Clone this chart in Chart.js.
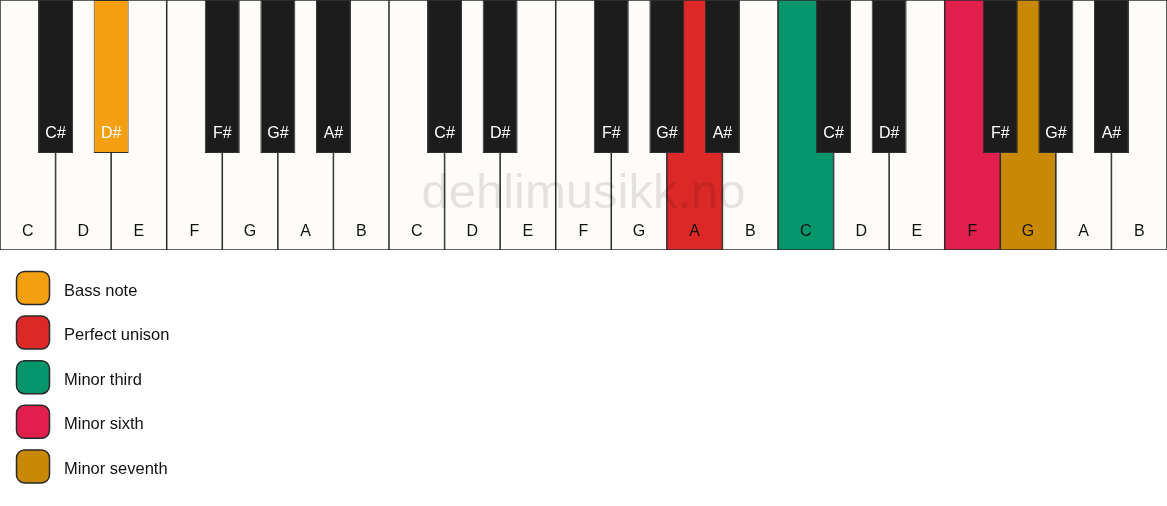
<!DOCTYPE html>
<html>
<head>
<meta charset="utf-8">
<script src="https://cdn.jsdelivr.net/npm/chart.js@4/dist/chart.umd.min.js"></script>
<style>
  html, body { margin: 0; padding: 0; background: #ffffff; }
  #wrap { width: 1167px; height: 506px; }
</style>
</head>
<body>
<div id="wrap"><canvas id="piano"></canvas></div>
<script>
// white keys, left to right (3 octaves)
const whiteNotes = ["C","D","E","F","G","A","B","C","D","E","F","G","A","B","C","D","E","F","G","A","B"];
// black keys sit on the boundary between two white keys (boundary index)
const blackNotes = ["C#","D#","F#","G#","A#","C#","D#","F#","G#","A#","C#","D#","F#","G#","A#"];
const blackBounds = [1, 2, 4, 5, 6, 8, 9, 11, 12, 13, 15, 16, 18, 19, 20];

// highlighted keys: [kind, index] matching the legend entries
const legendLabels = ["Bass note", "Perfect unison", "Minor third", "Minor sixth", "Minor seventh"];
const legendColors = ["#f39f0f", "#dd2828", "#05956a", "#e11f4c", "#c98905"];
const highlightKeys = [["black", 1], ["white", 12], ["white", 14], ["white", 17], ["white", 18]];

const keyTop = 1;
const blackKeyBottom = 0.388;

const WHITE = "#fdfcf9";
const BLACK = "#1c1c1c";

function keyColors(kind, count, base) {
  const colors = new Array(count).fill(base);
  highlightKeys.forEach(([k, idx], i) => {
    if (k === kind) colors[idx] = legendColors[i];
  });
  return colors;
}

const whiteData = whiteNotes.map((n, i) => ({ x: i + 0.5, y: [0, keyTop] }));
const blackData = blackBounds.map((b) => ({ x: b, y: [blackKeyBottom, keyTop] }));

// note names on keys + watermark
const keyLabels = {
  id: "keyLabels",
  afterDatasetsDraw(chart) {
    const ctx = chart.ctx;
    const area = chart.chartArea;
    ctx.save();
    ctx.textAlign = "center";
    ctx.textBaseline = "middle";

    ctx.font = "49px 'Liberation Sans', Arial, sans-serif";
    ctx.fillStyle = "rgba(0,0,0,0.1)";
    ctx.fillText("dehlimusikk.no", (area.left + area.right) / 2, 194);

    ctx.font = "16px 'Liberation Sans', Arial, sans-serif";
    chart.getDatasetMeta(0).data.forEach((bar, i) => {
      ctx.fillStyle = "#111111";
      ctx.fillText(whiteNotes[i], bar.x, 232);
    });
    chart.getDatasetMeta(1).data.forEach((bar, i) => {
      ctx.fillStyle = "#ffffff";
      ctx.fillText(blackNotes[i], bar.x, 134);
    });
    ctx.restore();
  }
};

// vertical legend under the keyboard
const sideLegend = {
  id: "sideLegend",
  afterDraw(chart) {
    const ctx = chart.ctx;
    ctx.save();
    ctx.font = "16.5px 'Liberation Sans', Arial, sans-serif";
    ctx.textBaseline = "middle";
    ctx.textAlign = "left";
    legendLabels.forEach((label, i) => {
      const top = 271.5 + i * 44.6;
      ctx.beginPath();
      ctx.roundRect(16.5, top, 33, 33, 8);
      ctx.fillStyle = legendColors[i];
      ctx.fill();
      ctx.lineWidth = 1.5;
      ctx.strokeStyle = "#2a2a2a";
      ctx.stroke();
      ctx.fillStyle = "#111111";
      ctx.fillText(label, 64, top + 19.5);
    });
    ctx.restore();
  }
};

new Chart(document.getElementById("piano"), {
  type: "bar",
  data: {
    datasets: [
      {
        label: "White keys",
        data: whiteData,
        xAxisID: "x",
        grouped: false,
        backgroundColor: keyColors("white", whiteNotes.length, WHITE),
        borderColor: "#2e2e2e",
        borderWidth: 1.1,
        borderSkipped: false,
        barPercentage: 1,
        categoryPercentage: 1,
        order: 2
      },
      {
        label: "Black keys",
        data: blackData,
        xAxisID: "x2",
        grouped: false,
        backgroundColor: keyColors("black", blackNotes.length, BLACK),
        borderColor: "#2e2e2e",
        borderWidth: 1,
        borderSkipped: false,
        barPercentage: 0.63,
        categoryPercentage: 1,
        order: 1
      }
    ]
  },
  options: {
    responsive: true,
    maintainAspectRatio: false,
    animation: false,
    devicePixelRatio: 1,
    layout: { padding: { left: 0, right: 0, top: 0, bottom: 256 } },
    scales: {
      x: { type: "linear", min: 0, max: whiteNotes.length, offset: false, display: false },
      x2: { type: "linear", min: 0, max: whiteNotes.length, offset: false, display: false },
      y: { min: 0, max: keyTop, display: false }
    },
    plugins: {
      legend: { display: false },
      tooltip: { enabled: false }
    }
  },
  plugins: [keyLabels, sideLegend]
});
</script>
</body>
</html>
